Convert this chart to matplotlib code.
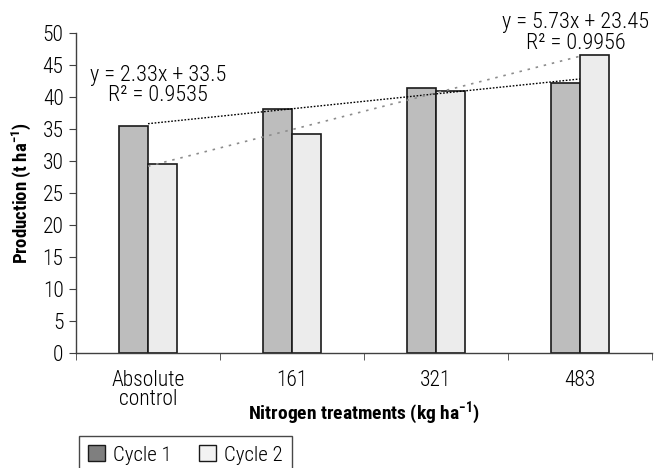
import numpy as np
import matplotlib
matplotlib.use("Agg")
import matplotlib.pyplot as plt
from matplotlib import font_manager as fm
from matplotlib.patches import Patch
from matplotlib.ticker import FixedLocator

# ── Data ─────────────────────────────────────────────────────────────────────
categories = ["Absolute\ncontrol", "161", "321", "483"]
cycle1 = [35.5, 38.1, 41.4, 42.2]
cycle2 = [29.6, 34.2, 40.9, 46.5]
fit1 = (2.33, 33.5)      # slope, intercept (x = 1..4)
fit2 = (5.73, 23.45)
r2_1 = 0.9535
r2_2 = 0.9956

# pick a condensed sans if one is installed
installed = {f.name for f in fm.fontManager.ttflist}
for cand in ["Roboto Condensed", "Archivo Narrow", "PT Sans Narrow",
             "Liberation Sans Narrow", "Open Sans Condensed", "Roboto"]:
    if cand in installed:
        FNAME = cand
        break
else:
    FNAME = "DejaVu Sans"

plt.rcParams["font.family"] = [FNAME, "DejaVu Sans"]
plt.rcParams["font.weight"] = "light"
plt.rcParams["mathtext.fontset"] = "custom"
plt.rcParams["mathtext.rm"] = FNAME
plt.rcParams["mathtext.bf"] = FNAME + ":bold"

fig = plt.figure(figsize=(6.54, 4.68), dpi=100)
ax = fig.add_axes([76 / 654, 1 - 353 / 468, 576 / 654, 320 / 468])

x = np.arange(len(categories))
w = 0.2
ax.bar(x - w / 2, cycle1, w, color="#bdbdbd", edgecolor="#1a1a1a", linewidth=1.2, zorder=2)
ax.bar(x + w / 2, cycle2, w, color="#ececec", edgecolor="#1a1a1a", linewidth=1.2, zorder=2)

# trendlines (Excel style, category centres x = 1..4)
xt = np.array([0, len(categories) - 1])
ax.plot(xt, fit1[0] * (xt + 1) + fit1[1], color="black", lw=1.0,
        linestyle=(0, (1.2, 1.2)), zorder=3)
ax.plot(xt, fit2[0] * (xt + 1) + fit2[1], color="#8c8c8c", lw=1.2,
        linestyle=(0, (1.5, 3.5)), zorder=3)

ax.text(0.07, 41.8, f"y = {fit1[0]:.2f}x + {fit1[1]}\nR² = {r2_1}",
        ha="center", va="center", fontsize=16, linespacing=0.95)
ax.text(2.97, 50.0, f"y = {fit2[0]:.2f}x + {fit2[1]}\nR² = {r2_2}",
        ha="center", va="center", fontsize=16, linespacing=0.95, clip_on=False)

# ── Axes ─────────────────────────────────────────────────────────────────────
ax.set_xlim(-0.5, len(categories) - 0.5)
ax.set_ylim(0, 50)
ax.set_yticks(range(0, 51, 5))
ax.set_xticks(x)
ax.set_xticklabels(categories, fontsize=15.5, linespacing=0.9)
ax.xaxis.set_minor_locator(FixedLocator(np.arange(-0.5, len(categories), 1)))
ax.tick_params(axis="x", which="major", length=0, pad=12)
ax.tick_params(axis="x", which="minor", length=5, color="#404040")
ax.tick_params(axis="y", length=5, color="#404040", labelsize=15.5, pad=4)

for s in ["top", "right"]:
    ax.spines[s].set_visible(False)
for s in ["left", "bottom"]:
    ax.spines[s].set_color("#404040")
    ax.spines[s].set_linewidth(1.0)

ax.set_ylabel(r"Production (t ha$^{\mathbf{-1}}$)", fontsize=13.5, fontweight="bold", labelpad=6)
ax.set_xlabel(r"Nitrogen treatments (kg ha$^{\mathbf{-1}}$)", fontsize=14,
              fontweight="bold", va="center")
ax.xaxis.set_label_coords(0.5, -(413 - 353) / 320)

handles = [Patch(facecolor="#7f7f7f", edgecolor="#1a1a1a", label="Cycle 1"),
           Patch(facecolor="#f2f2f2", edgecolor="#1a1a1a", label="Cycle 2")]
leg = fig.legend(handles=handles, loc="upper left", bbox_to_anchor=(79 / 654, 1 - 436 / 468),
                 ncol=2, frameon=True, fancybox=False, fontsize=15,
                 handlelength=0.8, handleheight=0.8, handletextpad=0.4,
                 columnspacing=1.3, borderpad=0.45, borderaxespad=0)
leg.get_frame().set_edgecolor("#1a1a1a")
leg.get_frame().set_linewidth(1.0)

fig.savefig("out.png", dpi=100)
